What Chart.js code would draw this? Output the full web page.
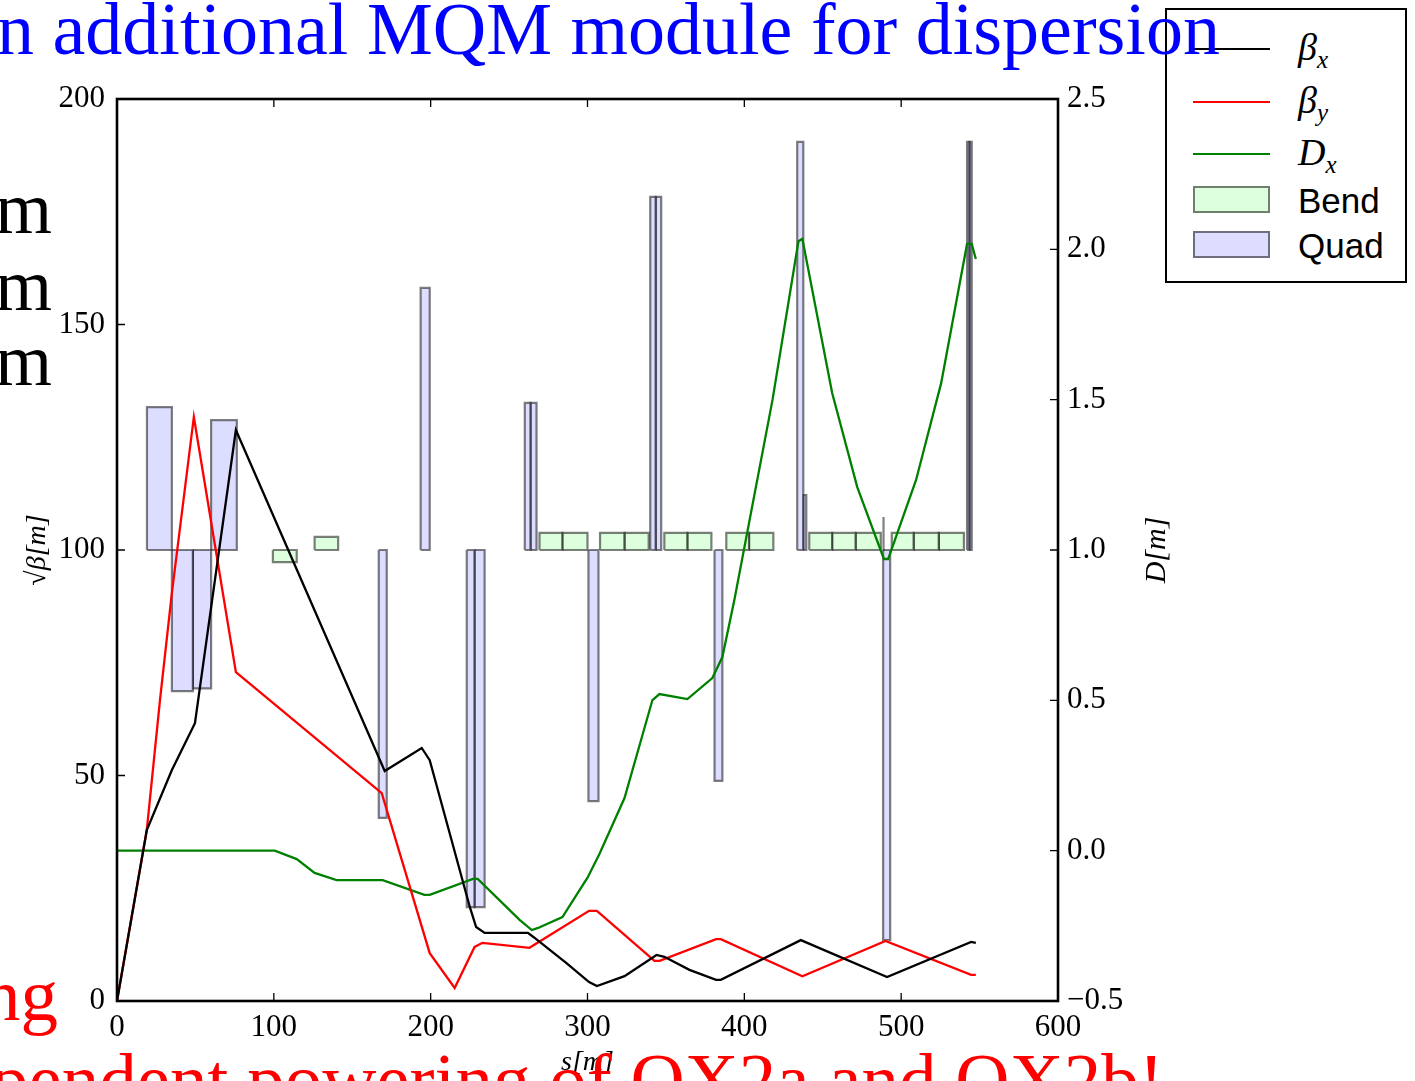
<!DOCTYPE html>
<html>
<head>
<meta charset="utf-8">
<script src="https://cdn.jsdelivr.net/npm/chart.js@4.4.1/dist/chart.umd.min.js"></script>
<style>
  html, body { margin: 0; padding: 0; background: #fff; overflow: hidden; }
  #wrap { position: relative; width: 1415px; height: 1081px; overflow: hidden; }
  #lattice { position: absolute; left: 0; top: 0; }
  .slide { position: absolute; font-family: "Liberation Serif", serif; white-space: nowrap; line-height: 1; }
  #legend { position: absolute; left: 1165px; top: 8px; width: 238px; height: 271px; border: 2px solid #000; background: #fff; }
  #legend .ln { position: absolute; left: 26px; width: 77px; height: 2px; }
  #legend .box { position: absolute; left: 26px; width: 73px; height: 23px; border: 2px solid rgba(0,0,0,0.5); }
  #legend .lab { position: absolute; left: 131px; transform: translateY(-50%); line-height: 1; white-space: nowrap; }
  #legend .math { font-family: "Liberation Serif", serif; font-style: italic; font-size: 38px; }
  #legend .math sub { font-size: 25px; vertical-align: -8px; }
  #legend .txt { font-family: "Liberation Sans", sans-serif; font-size: 35px; }
</style>
</head>
<body>
<div id="wrap">
  <canvas id="lattice" width="1415" height="1081"></canvas>

  <div id="legend">
    <div class="ln" style="top:38px; background:#000;"></div>
    <div class="lab math" style="top:40px;">β<sub>x</sub></div>
    <div class="ln" style="top:91px; background:#ff0000;"></div>
    <div class="lab math" style="top:93px;">β<sub>y</sub></div>
    <div class="ln" style="top:143px; background:#008000;"></div>
    <div class="lab math" style="top:145px;">D<sub>x</sub></div>
    <div class="box" style="top:176px; background:#ddffdd;"></div>
    <div class="lab txt" style="top:190px;">Bend</div>
    <div class="box" style="top:221px; background:#ddddff;"></div>
    <div class="lab txt" style="top:235px;">Quad</div>
  </div>

  <div class="slide" style="left:-3px; top:-8px; font-size:74px; color:#0000ff;">n additional MQM module for dispersion</div>
  <div class="slide" style="right:1363px; top:172px; font-size:73px; color:#000;">m</div>
  <div class="slide" style="right:1363px; top:249px; font-size:73px; color:#000;">m</div>
  <div class="slide" style="right:1363px; top:324px; font-size:73px; color:#000;">m</div>
  <div class="slide" style="right:1357px; top:957px; font-size:75px; color:#ff0000;">ng</div>
  <div class="slide" style="left:-9px; top:1042px; font-size:75px; color:#ff0000;">pendent powering of QX2a and QX2b!</div>
</div>

<script>
// Optics along the line, s in metres
const betaXS = [0, 19, 35, 49.7, 75.8, 170.7, 194.3, 199.4, 225, 229, 234.4, 262, 265.5, 286.6, 301, 306, 323.6, 344, 349, 365, 382, 385, 436, 491, 544.6, 547.6];
const betaX  = [0, 37.9, 51.2, 61.6, 126.6, 51.0, 56.1, 53.4, 20.8, 16.4, 15.1, 15.1, 14.2, 8.4, 4.2, 3.3, 5.5, 10.2, 9.8, 6.9, 4.7, 4.7, 13.5, 5.3, 13.1, 12.9];

const betaYS = [0, 19, 27.4, 35, 49, 75.8, 168.8, 199.4, 215.3, 228, 233, 263, 301, 306, 342.7, 346, 382, 385, 437, 490, 544.6, 547.6];
const betaY  = [0, 37.9, 66.7, 90.5, 129.5, 72.9, 46.1, 10.6, 2.9, 12.0, 12.9, 11.8, 20.0, 20.0, 8.9, 8.9, 13.7, 13.7, 5.5, 13.3, 5.8, 5.8];

const dispS = [0, 100.6, 114.6, 126, 140, 169.4, 196, 199.4, 227, 230, 256.7, 264.5, 268.5, 284, 300, 307.6, 323.6, 341.4, 345.9, 363.7, 379.6, 386, 393.6, 418, 434.5, 437, 456, 472, 489, 491.7, 509.5, 525.5, 542, 545, 547.6];
const dispX = [0, 0, -0.028, -0.074, -0.098, -0.098, -0.147, -0.147, -0.094, -0.094, -0.23, -0.264, -0.257, -0.221, -0.09, -0.011, 0.175, 0.501, 0.521, 0.504, 0.574, 0.644, 0.833, 1.5, 2.027, 2.035, 1.522, 1.209, 0.97, 0.97, 1.233, 1.555, 2.018, 2.018, 1.968];

// Lattice elements drawn around the 100 line: start, end, far edge
const LATTICE_BASE = 100;
const bendStart = [99.4, 126, 269.4, 284, 308, 323.6, 349, 363.7, 388.5, 403, 441.4, 456, 471, 494, 508, 524];
const bendEnd   = [114.6, 141, 284, 300, 323.6, 339, 363.7, 379, 403, 418.5, 456, 471, 487, 508, 524, 540];
const bendEdge  = [97.3, 102.9, 103.8, 103.8, 103.8, 103.8, 103.8, 103.8, 103.8, 103.8, 103.8, 103.8, 103.8, 103.8, 103.8, 103.8];

const quadStart = [19.1, 35, 48.4, 60, 166.9, 193.6, 223, 228, 260, 263.7, 300.6, 340, 343.5, 381, 433.7, 437.6, 488.5, 488.5, 542, 543.5];
const quadEnd   = [35, 48.4, 60, 76.4, 172, 199.4, 228, 234.4, 263.7, 267.5, 307, 343.5, 347, 386, 437.6, 439.5, 489, 493, 543.5, 545];
const quadEdge  = [131.7, 68.7, 69.3, 128.8, 40.6, 158.1, 20.8, 20.8, 132.6, 132.6, 44.3, 178.3, 178.3, 48.8, 190.5, 112.2, 107.3, 13.5, 190.5, 190.5];

const xTicks = [0, 100, 200, 300, 400, 500, 600];

const SERIF = '"Liberation Serif", serif';

function curve(xs, ys, color, axis) {
  return {
    data: xs.map((s, i) => ({ x: s, y: ys[i] })),
    borderColor: color, borderWidth: 2.3, fill: false,
    pointRadius: 0, tension: 0, yAxisID: axis, order: 0
  };
}

function element(s0, s1, edge, fillColor) {
  return {
    data: [
      { x: s0, y: LATTICE_BASE }, { x: s0, y: edge },
      { x: s1, y: edge }, { x: s1, y: LATTICE_BASE }, { x: s0, y: LATTICE_BASE }
    ],
    borderColor: 'rgba(0,0,0,0.5)', borderWidth: 2.2,
    backgroundColor: fillColor, fill: 'shape',
    pointRadius: 0, tension: 0, yAxisID: 'y', order: 1
  };
}

const datasets = [
  curve(betaXS, betaX, '#000000', 'y'),
  curve(betaYS, betaY, '#ff0000', 'y'),
  curve(dispS, dispX, '#008000', 'y1')
];
bendStart.forEach((s, i) => datasets.push(element(s, bendEnd[i], bendEdge[i], 'rgba(187,255,187,0.5)')));
quadStart.forEach((s, i) => datasets.push(element(s, quadEnd[i], quadEdge[i], 'rgba(187,187,255,0.5)')));

// frame, inward tick marks and the right-hand axis label
const frameTicks = {
  id: 'frameTicks',
  afterDraw(chart) {
    const { ctx, chartArea: a, scales } = chart;
    const len = 8;
    ctx.save();
    ctx.strokeStyle = '#000';
    ctx.lineWidth = 1.3;
    ctx.beginPath();
    scales.x.ticks.forEach(t => {
      const px = scales.x.getPixelForValue(t.value);
      ctx.moveTo(px, a.bottom); ctx.lineTo(px, a.bottom - len);
      ctx.moveTo(px, a.top); ctx.lineTo(px, a.top + len);
    });
    scales.y.ticks.forEach(t => {
      const py = scales.y.getPixelForValue(t.value);
      ctx.moveTo(a.left, py); ctx.lineTo(a.left + len, py);
    });
    scales.y1.ticks.forEach(t => {
      const py = scales.y1.getPixelForValue(t.value);
      ctx.moveTo(a.right, py); ctx.lineTo(a.right - len, py);
    });
    ctx.stroke();
    ctx.lineWidth = 2.6;
    ctx.strokeRect(a.left, a.top, a.width, a.height);

    ctx.translate(a.right + 99, (a.top + a.bottom) / 2);
    ctx.rotate(-Math.PI / 2);
    ctx.fillStyle = '#000';
    ctx.font = 'italic 30px ' + SERIF;
    ctx.textAlign = 'center';
    ctx.textBaseline = 'middle';
    ctx.fillText('D[m]', 0, 0);
    ctx.restore();
  }
};

new Chart(document.getElementById('lattice'), {
  type: 'line',
  data: { datasets },
  options: {
    responsive: false,
    animation: false,
    devicePixelRatio: 1,
    layout: { padding: { top: 99, right: 237, bottom: 0, left: 0 } },
    plugins: { legend: { display: false }, tooltip: { enabled: false } },
    scales: {
      x: {
        type: 'linear', min: 0, max: 600,
        afterBuildTicks: s => { s.ticks = xTicks.map(v => ({ value: v })); },
        ticks: { padding: 0, color: '#000', maxRotation: 0, font: { family: SERIF, size: 31 } },
        grid: { display: false }, border: { display: false },
        title: { display: true, text: 's[m]', color: '#000', padding: { top: 0, bottom: 2 },
                 font: { family: SERIF, size: 28, style: 'italic' } },
        afterFit: s => { s.height = 80; }
      },
      y: {
        position: 'left', min: 0, max: 200,
        ticks: { stepSize: 50, padding: 4, color: '#000', font: { family: SERIF, size: 31 } },
        grid: { display: false }, border: { display: false },
        title: { display: true, text: '√β[m]', color: '#000', padding: { top: 21, bottom: 0 },
                 font: { family: SERIF, size: 28, style: 'italic' } },
        afterFit: s => { s.width = 117; }
      },
      y1: {
        position: 'right', min: -0.5, max: 2.5,
        ticks: {
          stepSize: 0.5, padding: 1, color: '#000', font: { family: SERIF, size: 31 },
          callback: v => (v < 0 ? '\u2212' + Math.abs(v).toFixed(1) : v.toFixed(1))
        },
        grid: { display: false }, border: { display: false },
        afterFit: s => { s.width = 120; }
      }
    }
  },
  plugins: [frameTicks]
});
</script>
</body>
</html>
